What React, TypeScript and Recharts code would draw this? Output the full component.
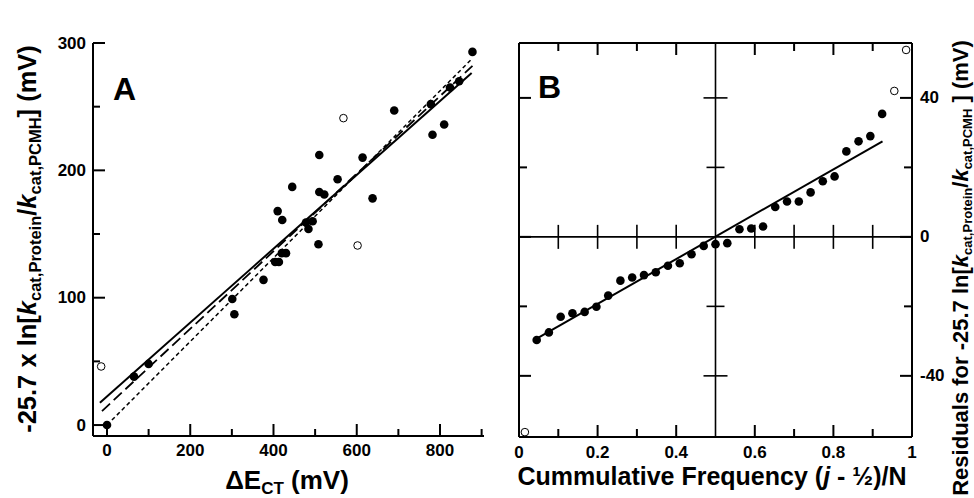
import React from 'react';
import { ComposedChart, Scatter, XAxis, YAxis, ReferenceLine } from 'recharts';

const FONT = '"Liberation Sans", Arial, Helvetica, sans-serif';

// ---------- Panel A data ----------
const aFilled = [
  { x: 0, y: 0 }, { x: 65, y: 38 }, { x: 100, y: 48 }, { x: 301, y: 99 }, { x: 306, y: 87 },
  { x: 376, y: 114 }, { x: 404, y: 128 }, { x: 413, y: 128 }, { x: 420, y: 135 }, { x: 430, y: 135 },
  { x: 410, y: 168 }, { x: 421, y: 161 }, { x: 445, y: 187 }, { x: 478, y: 159 }, { x: 494, y: 160 },
  { x: 484, y: 154 }, { x: 508, y: 142 }, { x: 510, y: 212 }, { x: 510, y: 183 }, { x: 522, y: 181 },
  { x: 554, y: 193 }, { x: 614, y: 210 }, { x: 638, y: 178 }, { x: 690, y: 247 }, { x: 778, y: 252 },
  { x: 782, y: 228 }, { x: 810, y: 236 }, { x: 824, y: 265 }, { x: 846, y: 270 }, { x: 878, y: 293 },
];
const aOpen = [{ x: -14, y: 46 }, { x: 568, y: 241 }, { x: 602, y: 141 }];
const aFitSolid = [{ x: -17, y: 17.5 }, { x: 876, y: 276.5 }];
const aFitDashed = [{ x: -12, y: 11 }, { x: 878, y: 282 }];
const aFitDotted = [{ x: 0, y: 0 }, { x: 875, y: 287 }];
const aXDomain = [-33.6, 905.7];
const aYDomain = [-8.6, 300];
const aXTicks = [0, 100, 200, 300, 400, 500, 600, 700, 800, 900];
const aYTicks = [0, 50, 100, 150, 200, 250, 300];
const aRightDomain = [0, 300];
const aRightTicks = [50, 100, 150, 200, 250];

// ---------- Panel B data ----------
const bFilledX = [0.045, 0.076, 0.106, 0.136, 0.167, 0.197, 0.227, 0.258, 0.288, 0.318,
  0.348, 0.379, 0.409, 0.439, 0.470, 0.500, 0.530, 0.561, 0.591, 0.621,
  0.652, 0.682, 0.712, 0.742, 0.773, 0.803, 0.833, 0.864, 0.894, 0.924];
const bFilledY = [-29.7, -27.5, -23.0, -22.0, -21.6, -20.1, -16.9, -12.6, -11.7, -11.0,
  -10.2, -8.3, -7.6, -5.0, -2.6, -2.1, -1.8, 2.2, 2.4, 3.0,
  8.6, 10.2, 10.2, 12.8, 16.0, 17.4, 24.6, 27.5, 29.0, 35.4];
const bFilled = bFilledX.map((x, i) => ({ x, y: bFilledY[i] }));
const bOpen = [{ x: 0.015, y: -56.2 }, { x: 0.955, y: 42.0 }, { x: 0.985, y: 53.8 }];
const bFit = [{ x: 0.045, y: -29.3 }, { x: 0.925, y: 27.5 }];
const bXDomain = [0, 1];
const bYDomain = [-57.6, 55.8];
const bXTicks = [0, 0.1, 0.2, 0.3, 0.4, 0.5, 0.6, 0.7, 0.8, 0.9, 1];
const bXLabels = ['0', null, '0.2', null, '0.4', null, '0.6', null, '0.8', null, '1'];
const bYTicks = [-40, -20, 0, 20, 40];
const bYLabels = ['-40', null, '0', null, '40'];
const bInnerX = [0.1, 0.2, 0.3, 0.4, 0.6, 0.7, 0.8, 0.9];
const bCrossY = [40, 20, -20, -40];

const AXIS = { stroke: '#000', strokeWidth: 2 };

type Side = 'bottom' | 'top' | 'left' | 'right';
const tickFactory = (side: Side, len: (v: number) => number, label: (v: number) => string | null, gap: number) =>
  (props: any) => {
    const x = Number(props.x);
    const y = Number(props.y);
    const v = Number(props.payload?.value);
    const L = len(v);
    const lab = label(v);
    let x2 = x, y2 = y, tx = x, ty = y;
    let anchor: any = 'middle';
    if (side === 'bottom') { y2 = y - L; ty = y + gap; }
    else if (side === 'top') { y2 = y + L; }
    else if (side === 'left') { x2 = x + L; tx = x - gap; anchor = 'end'; }
    else { x2 = x - L; tx = x + gap; anchor = 'start'; }
    return (
      <g>
        {L > 0 && <line x1={x} y1={y} x2={x2} y2={y2} stroke="#000" strokeWidth={2} />}
        {lab !== null && (
          <text x={tx} y={ty} textAnchor={anchor}
            dominantBaseline={side === 'left' || side === 'right' ? 'central' : 'auto'}
            fontFamily={FONT} fontWeight="bold" fontSize={17} fill="#000">{lab}</text>
        )}
      </g>
    );
  };

const rightLabel = (value: string) => (p: any) => {
  const vb = p?.viewBox || {};
  const x = Number(vb.x ?? 0) + Number(vb.width ?? 0) + 8;
  const y = Number(vb.y ?? 0) + Number(vb.height ?? 0) / 2;
  return (
    <text x={x} y={y} textAnchor="start" dominantBaseline="central"
      fontFamily={FONT} fontWeight="bold" fontSize={17} fill="#000">{value}</text>
  );
};

const noShape = () => <g />;
const filledDot = (p: any) => <circle cx={p.cx} cy={p.cy} r={4.3} fill="#000" />;
const openDot = (p: any) => <circle cx={p.cx} cy={p.cy} r={3.8} fill="#fff" stroke="#000" strokeWidth={1} />;

const common = { tickSize: 0, tickMargin: 0, tickLine: false, axisLine: AXIS, interval: 0 as any, allowDataOverflow: true };

function PanelA() {
  const xl = (v: number) => (v % 200 === 0 ? 12 : 7);
  const yl = (v: number) => (v % 100 === 0 ? 12 : 7);
  return (
    <ComposedChart width={500} height={498} margin={{ top: 43, right: 16, bottom: 0, left: 0 }}>
      <XAxis xAxisId="ab" type="number" dataKey="x" domain={aXDomain} ticks={aXTicks} orientation="bottom" height={62} {...common}
        tick={tickFactory('bottom', xl, (v) => (v % 200 === 0 && v <= 800 ? String(v) : null), 20)} />
      <XAxis xAxisId="at" type="number" dataKey="x" domain={aXDomain} ticks={aXTicks} orientation="top" height={0} {...common}
        tick={tickFactory('top', xl, () => null, 0)} />
      <YAxis yAxisId="al" type="number" dataKey="y" domain={aYDomain} ticks={aYTicks} orientation="left" width={93} {...common}
        tick={tickFactory('left', yl, (v) => (v % 100 === 0 ? String(v) : null), 7)} />
      <YAxis yAxisId="ar" type="number" dataKey="y" domain={aRightDomain} ticks={aRightTicks} orientation="right" width={0} {...common}
        tick={tickFactory('right', () => 11, () => null, 0)} />
      <Scatter xAxisId="ab" yAxisId="al" data={aFitSolid} line={{ stroke: '#000', strokeWidth: 2 }} shape={noShape} isAnimationActive={false} />
      <Scatter xAxisId="ab" yAxisId="al" data={aFitDashed} line={{ stroke: '#000', strokeWidth: 1.8, strokeDasharray: '11 5' }} shape={noShape} isAnimationActive={false} />
      <Scatter xAxisId="ab" yAxisId="al" data={aFitDotted} line={{ stroke: '#000', strokeWidth: 1.5, strokeDasharray: '4 3' }} shape={noShape} isAnimationActive={false} />
      <Scatter xAxisId="ab" yAxisId="al" data={aFilled} shape={filledDot} isAnimationActive={false} />
      <Scatter xAxisId="ab" yAxisId="al" data={aOpen} shape={openDot} isAnimationActive={false} />
    </ComposedChart>
  );
}

function PanelB() {
  const xl = (v: number) => (v === 0 || v === 1 || v === 0.5 ? 0 : Math.round(v * 10) % 2 === 0 ? 12 : 8);
  const yl = (v: number) => (Math.abs(v) === 20 ? 8 : 12);
  const xlab = (v: number) => { const i = bXTicks.indexOf(v); return i >= 0 ? bXLabels[i] : null; };
  const top = bYDomain[1];
  const pxY = (bYDomain[1] - bYDomain[0]) / 394; // data units per pixel (y)
  const pxX = (bXDomain[1] - bXDomain[0]) / 393; // data units per pixel (x)
  const ref = { xAxisId: 'bb', yAxisId: 'bl', stroke: '#000', ifOverflow: 'visible' as any };
  return (
    <ComposedChart width={474} height={498} margin={{ top: 43, right: 62, bottom: 0, left: 0 }}>
      <XAxis xAxisId="bb" type="number" dataKey="x" domain={bXDomain} ticks={bXTicks} orientation="bottom" height={61} {...common}
        tick={tickFactory('bottom', xl, xlab, 21)} />
      <YAxis yAxisId="bl" type="number" dataKey="y" domain={bYDomain} ticks={bYTicks} orientation="left" width={19} {...common}
        tick={tickFactory('left', yl, () => null, 0)} />
      {/* frame: top and right */}
      <ReferenceLine {...ref} y={top} strokeWidth={2} />
      <ReferenceLine {...ref} x={1} strokeWidth={2} />
      {bInnerX.map((v) => (
        <ReferenceLine key={'tt' + v} {...ref} strokeWidth={2}
          segment={[{ x: v, y: top }, { x: v, y: top - xl(v) * pxY }]} />
      ))}
      {bYTicks.map((v, i) => (
        <ReferenceLine key={'rt' + v} {...ref} strokeWidth={2}
          segment={[{ x: 1 - yl(v) * pxX, y: v }, { x: 1, y: v }]}
          label={bYLabels[i] ? { content: rightLabel(bYLabels[i] as string) } : undefined} />
      ))}
      {/* centre cross */}
      <ReferenceLine {...ref} x={0.5} strokeWidth={1.6} />
      <ReferenceLine {...ref} y={0} strokeWidth={1.6} />
      {bInnerX.map((v) => (
        <ReferenceLine key={'cx' + v} {...ref} strokeWidth={1.6} segment={[{ x: v, y: -12 * pxY }, { x: v, y: 12 * pxY }]} />
      ))}
      {bCrossY.map((v) => {
        const h = (Math.abs(v) === 20 ? 9 : 12) * pxX;
        return <ReferenceLine key={'cy' + v} {...ref} strokeWidth={1.6} segment={[{ x: 0.5 - h, y: v }, { x: 0.5 + h, y: v }]} />;
      })}
      <Scatter xAxisId="bb" yAxisId="bl" data={bFit} line={{ stroke: '#000', strokeWidth: 2 }} shape={noShape} isAnimationActive={false} />
      <Scatter xAxisId="bb" yAxisId="bl" data={bFilled} shape={filledDot} isAnimationActive={false} />
      <Scatter xAxisId="bb" yAxisId="bl" data={bOpen} shape={openDot} isAnimationActive={false} />
    </ComposedChart>
  );
}

export default function App() {
  return (
    <div style={{ position: 'absolute', left: 0, top: 0, width: 974, height: 498, background: '#fff', overflow: 'hidden' }}>
      <div style={{ position: 'absolute', left: 0, top: 0 }}><PanelA /></div>
      <div style={{ position: 'absolute', left: 500, top: 0 }}><PanelB /></div>
      <svg style={{ position: 'absolute', left: 0, top: 0, pointerEvents: 'none' }} width={974} height={498}
        fontFamily={FONT} fontWeight="bold" fill="#000">
        <text x={113} y={100} fontSize={32}>A</text>
        <text x={538} y={98} fontSize={32}>B</text>
        <text x={287} y={489} fontSize={26} textAnchor="middle">
          ΔE<tspan fontSize={17} dy={5}>CT</tspan><tspan dy={-5}> (mV)</tspan>
        </text>
        <text x={712} y={485} fontSize={25} textAnchor="middle">
          Cummulative Frequency (<tspan fontStyle="italic">j</tspan> - ½)/N
        </text>
        <text transform="translate(36,239) rotate(-90)" fontSize={25.5} textAnchor="middle">
          -25.7 x ln[<tspan fontStyle="italic">k</tspan><tspan fontSize={16.5} dy={5}>cat,Protein</tspan><tspan dy={-5}>/</tspan><tspan fontStyle="italic">k</tspan><tspan fontSize={16.5} dy={5}>cat,PCMH</tspan><tspan dy={-5}>] (mV)</tspan>
        </text>
        <text transform="translate(968,268) rotate(-90)" fontSize={22} textAnchor="middle">
          Residuals for -25.7 ln[<tspan fontStyle="italic">k</tspan><tspan fontSize={13} dy={4}>cat,Protein</tspan><tspan dy={-4}>/</tspan><tspan fontStyle="italic">k</tspan><tspan fontSize={13} dy={4}>cat,PCMH</tspan><tspan dy={-4}> ] (mV)</tspan>
        </text>
      </svg>
    </div>
  );
}
